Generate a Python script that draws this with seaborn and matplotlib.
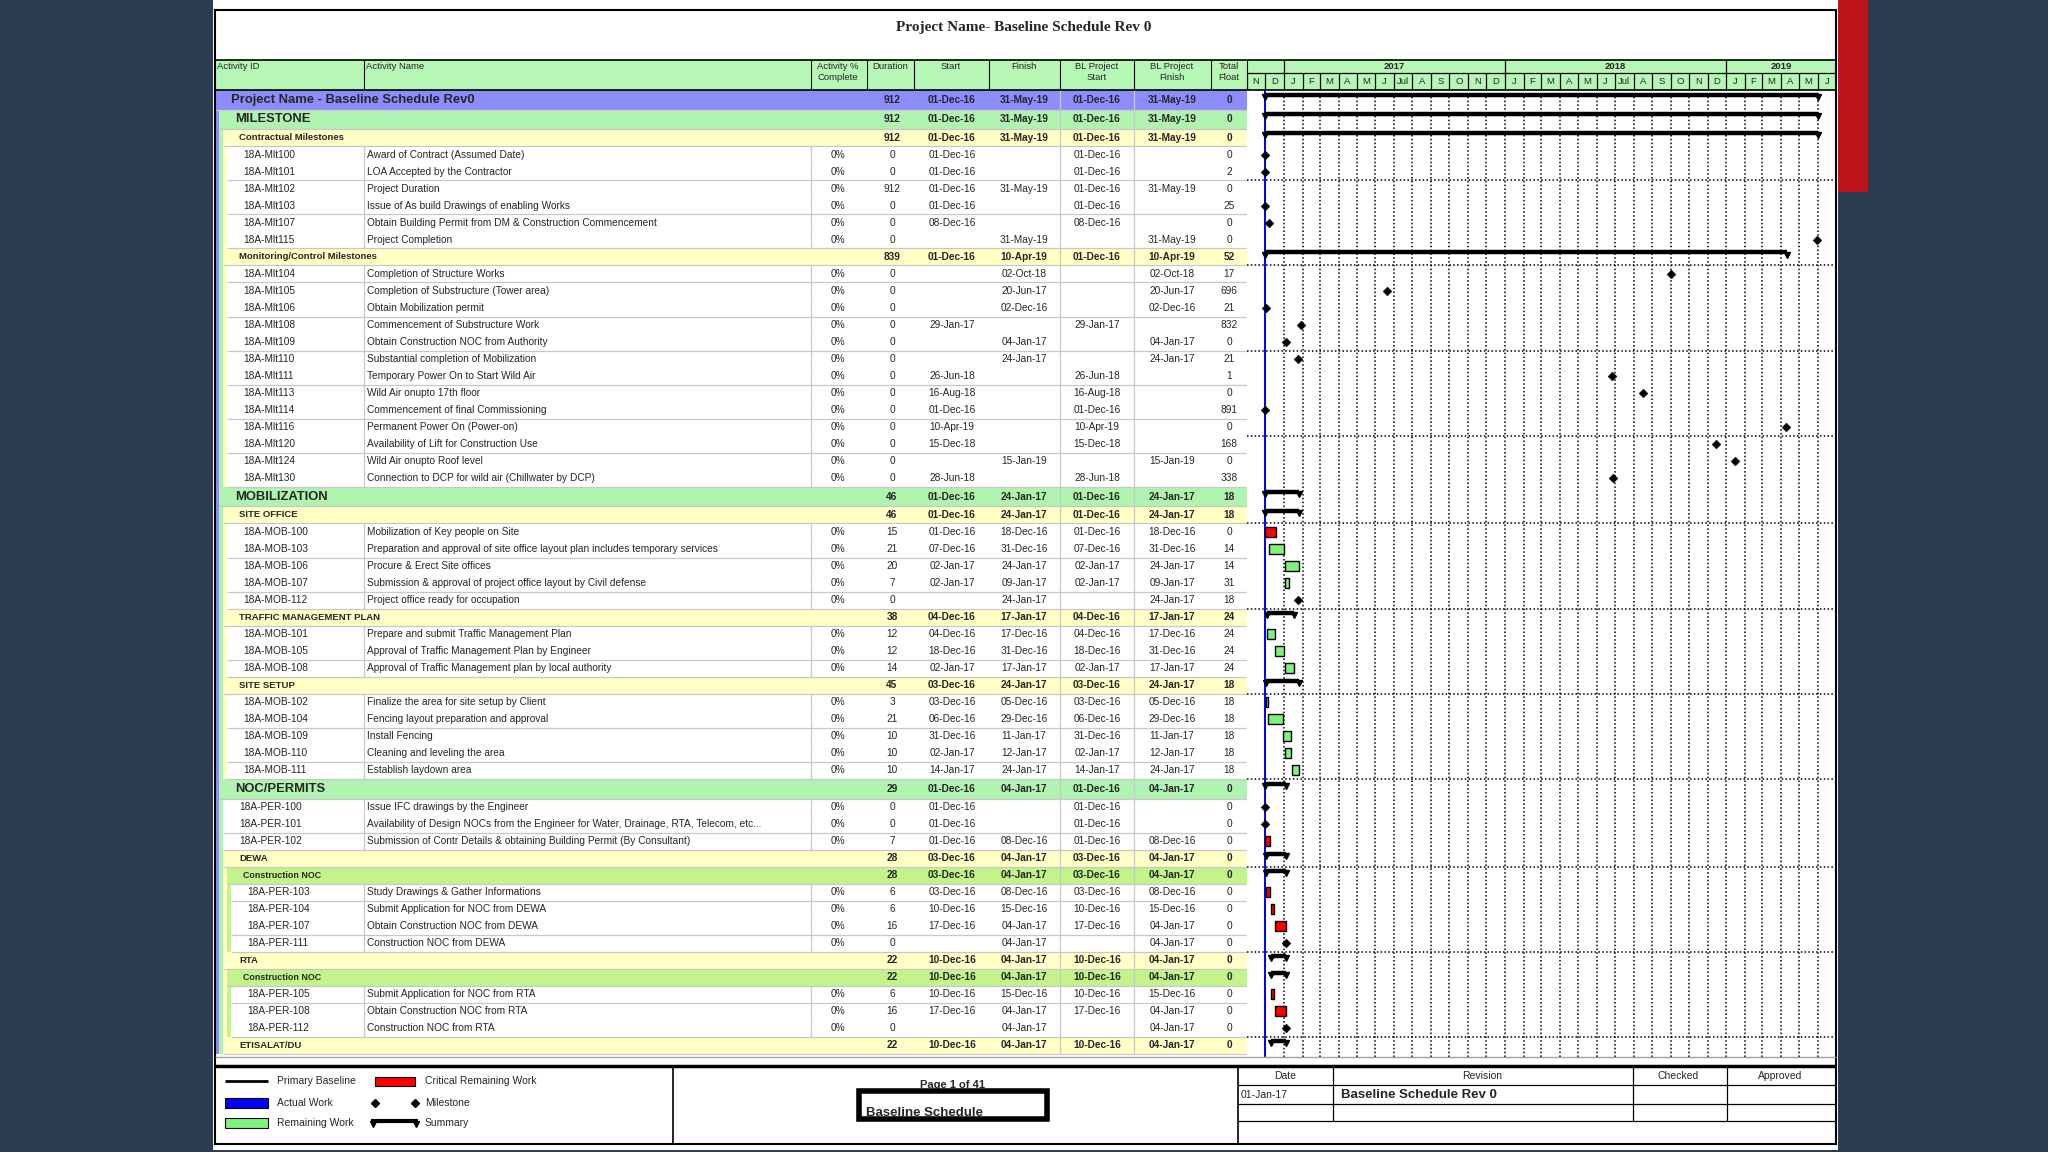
"""
Baseline schedule page (P6 style layout) redrawn with matplotlib + seaborn.
"""

import numpy as np
import pandas as pd
import matplotlib
matplotlib.use('Agg')
import matplotlib.pyplot as plt
import matplotlib.dates as mdates
from matplotlib.patches import Rectangle
import seaborn as sns

sns.set_theme(style='white')
plt.rcParams['font.family'] = ['Liberation Sans', 'DejaVu Sans']

W, H = 2048, 1152
BG = '#2c3d4f'
PURPLE = '#8c8cff'
GREEN = '#b0f3b0'
YELLOW = '#ffffc6'
LIME = '#c4f38c'
HEAD = '#b6f7b6'
BAR_GREEN = '#80f080'
BAR_RED = '#ff0000'
GRID = '#c8c8c8'

# ---- schedule data ----
kinds = (['P', 'W1', 'W2'] + ['T'] * 6 + ['W2'] + ['T'] * 13 +
         ['W1', 'W2'] + ['T'] * 5 + ['W2'] + ['T'] * 3 + ['W2'] + ['T'] * 5 +
         ['W1'] + ['T'] * 3 + ['W2', 'W3'] + ['T'] * 4 + ['W2', 'W3'] + ['T'] * 3 + ['W2'])

depth = ([0, 1, 2] + [3] * 6 + [2] + [3] * 13 +
         [1, 2] + [3] * 5 + [2] + [3] * 3 + [2] + [3] * 5 +
         [1] + [2] * 3 + [2, 3] + [4] * 4 + [2, 3] + [4] * 3 + [2])

act_id = [
    'Project Name - Baseline Schedule Rev0', 'MILESTONE', 'Contractual Milestones',
    '18A-Mlt100', '18A-Mlt101', '18A-Mlt102', '18A-Mlt103', '18A-Mlt107', '18A-Mlt115',
    'Monitoring/Control Milestones',
    '18A-Mlt104', '18A-Mlt105', '18A-Mlt106', '18A-Mlt108', '18A-Mlt109', '18A-Mlt110',
    '18A-Mlt111', '18A-Mlt113', '18A-Mlt114', '18A-Mlt116', '18A-Mlt120', '18A-Mlt124',
    '18A-Mlt130',
    'MOBILIZATION', 'SITE OFFICE',
    '18A-MOB-100', '18A-MOB-103', '18A-MOB-106', '18A-MOB-107', '18A-MOB-112',
    'TRAFFIC MANAGEMENT PLAN',
    '18A-MOB-101', '18A-MOB-105', '18A-MOB-108',
    'SITE SETUP',
    '18A-MOB-102', '18A-MOB-104', '18A-MOB-109', '18A-MOB-110', '18A-MOB-111',
    'NOC/PERMITS',
    '18A-PER-100', '18A-PER-101', '18A-PER-102',
    'DEWA', 'Construction NOC',
    '18A-PER-103', '18A-PER-104', '18A-PER-107', '18A-PER-111',
    'RTA', 'Construction NOC',
    '18A-PER-105', '18A-PER-108', '18A-PER-112',
    'ETISALAT/DU']

act_name = [
    '', '', '',
    'Award of Contract (Assumed Date)', 'LOA Accepted by the Contractor', 'Project Duration',
    'Issue of As build Drawings of enabling Works',
    'Obtain Building Permit from DM & Construction Commencement', 'Project Completion',
    '',
    'Completion of Structure Works', 'Completion of Substructure (Tower area)',
    'Obtain Mobilization permit', 'Commencement of Substructure Work',
    'Obtain Construction NOC from Authority', 'Substantial completion of Mobilization',
    'Temporary Power On to Start Wild Air', 'Wild Air onupto 17th floor',
    'Commencement of final Commissioning', 'Permanent Power On (Power-on)',
    'Availability of Lift for Construction Use', 'Wild Air onupto Roof level',
    'Connection to DCP for wild air (Chillwater by DCP)',
    '', '',
    'Mobilization of Key people on Site',
    'Preparation and approval of site office layout plan includes temporary services',
    'Procure & Erect Site offices',
    'Submission & approval of project office layout by Civil defense',
    'Project office ready for occupation',
    '',
    'Prepare and submit Traffic Management Plan',
    'Approval of Traffic Management Plan by Engineer',
    'Approval of Traffic Management plan by local authority',
    '',
    'Finalize the area for site setup by Client', 'Fencing layout preparation and approval',
    'Install Fencing', 'Cleaning and leveling the area', 'Establish laydown area',
    '',
    'Issue IFC drawings by the Engineer',
    'Availability of Design NOCs from the Engineer for Water, Drainage, RTA, Telecom, etc...',
    'Submission of Contr Details & obtaining Building Permit (By Consultant)',
    '', '',
    'Study Drawings & Gather Informations', 'Submit Application for NOC from DEWA',
    'Obtain Construction NOC from DEWA', 'Construction NOC from DEWA',
    '', '',
    'Submit Application for NOC from RTA', 'Obtain Construction NOC from RTA',
    'Construction NOC from RTA',
    '']

duration = [912, 912, 912, 0, 0, 912, 0, 0, 0,
            839, 0, 0, 0, 0, 0, 0, 0, 0, 0, 0, 0, 0, 0,
            46, 46, 15, 21, 20, 7, 0,
            38, 12, 12, 14,
            45, 3, 21, 10, 10, 10,
            29, 0, 0, 7,
            28, 28, 6, 6, 16, 0,
            22, 22, 6, 16, 0,
            22]

start = ['01-Dec-16', '01-Dec-16', '01-Dec-16',
         '01-Dec-16', '01-Dec-16', '01-Dec-16', '01-Dec-16', '08-Dec-16', '',
         '01-Dec-16',
         '', '', '', '29-Jan-17', '', '', '26-Jun-18', '16-Aug-18', '01-Dec-16',
         '10-Apr-19', '15-Dec-18', '', '28-Jun-18',
         '01-Dec-16', '01-Dec-16',
         '01-Dec-16', '07-Dec-16', '02-Jan-17', '02-Jan-17', '',
         '04-Dec-16',
         '04-Dec-16', '18-Dec-16', '02-Jan-17',
         '03-Dec-16',
         '03-Dec-16', '06-Dec-16', '31-Dec-16', '02-Jan-17', '14-Jan-17',
         '01-Dec-16',
         '01-Dec-16', '01-Dec-16', '01-Dec-16',
         '03-Dec-16', '03-Dec-16',
         '03-Dec-16', '10-Dec-16', '17-Dec-16', '',
         '10-Dec-16', '10-Dec-16',
         '10-Dec-16', '17-Dec-16', '',
         '10-Dec-16']

finish = ['31-May-19', '31-May-19', '31-May-19',
          '', '', '31-May-19', '', '', '31-May-19',
          '10-Apr-19',
          '02-Oct-18', '20-Jun-17', '02-Dec-16', '', '04-Jan-17', '24-Jan-17', '', '', '',
          '', '', '15-Jan-19', '',
          '24-Jan-17', '24-Jan-17',
          '18-Dec-16', '31-Dec-16', '24-Jan-17', '09-Jan-17', '24-Jan-17',
          '17-Jan-17',
          '17-Dec-16', '31-Dec-16', '17-Jan-17',
          '24-Jan-17',
          '05-Dec-16', '29-Dec-16', '11-Jan-17', '12-Jan-17', '24-Jan-17',
          '04-Jan-17',
          '', '', '08-Dec-16',
          '04-Jan-17', '04-Jan-17',
          '08-Dec-16', '15-Dec-16', '04-Jan-17', '04-Jan-17',
          '04-Jan-17', '04-Jan-17',
          '15-Dec-16', '04-Jan-17', '04-Jan-17',
          '04-Jan-17']

# baseline equals current plan in this revision
bl_start = list(start)
bl_finish = list(finish)

total_float = [0, 0, 0, 0, 2, 0, 25, 0, 0,
               52, 17, 696, 21, 832, 0, 21, 1, 0, 891, 0, 168, 0, 338,
               18, 18, 0, 14, 14, 31, 18,
               24, 24, 24, 24,
               18, 18, 18, 18, 18, 18,
               0, 0, 0, 0,
               0, 0, 0, 0, 0, 0,
               0, 0, 0, 0, 0,
               0]

# level-of-effort bar not drawn on the chart
hidden_bars = ['18A-Mlt102']

month_labels = ['N', 'D',
                'J', 'F', 'M', 'A', 'M', 'J', 'Jul', 'A', 'S', 'O', 'N', 'D',
                'J', 'F', 'M', 'A', 'M', 'J', 'Jul', 'A', 'S', 'O', 'N', 'D',
                'J', 'F', 'M', 'A', 'M', 'J']
years = [2017, 2018, 2019]

df = pd.DataFrame({'kind': kinds, 'depth': depth, 'id': act_id, 'name': act_name,
                   'dur': duration, 'start': start, 'finish': finish,
                   'bl_start': bl_start, 'bl_finish': bl_finish, 'tf': total_float})
for c in ['start', 'finish']:
    df[c + '_d'] = pd.to_datetime(df[c], format='%d-%b-%y', errors='coerce')

n = len(df)
row_h = np.where(df['kind'].isin(['P', 'W1']), 1.15, 1.0)
tops = np.concatenate([[0], np.cumsum(row_h)[:-1]])
cent = tops + row_h / 2
PX = (1054 - 90) / row_h.sum()
ymax = (1057 - 90) / PX

fig = plt.figure(figsize=(W / 100, H / 100), dpi=100, facecolor=BG)


def px_axes(x0, y0, x1, y1, z):
    a = fig.add_axes([x0 / W, 1 - y1 / H, (x1 - x0) / W, (y1 - y0) / H], zorder=z)
    a.set_facecolor('none')
    a.axis('off')
    return a


def box(ax, x0, y0, x1, y1, **kw):
    ax.add_patch(Rectangle((x0, y0), x1 - x0, y1 - y0, **kw))


# page background
ax_bg = px_axes(0, 0, W, H, 0)
ax_bg.set_xlim(0, W); ax_bg.set_ylim(H, 0)
box(ax_bg, 213, 0, 1838, 1150, color='white', lw=0)
box(ax_bg, 1838, 0, 1868, 192, color='#c0141c', lw=0)

# ---- activity table ----
ax_t = px_axes(215, 90, 1247, 1057, 2)
ax_t.set_xlim(215, 1247); ax_t.set_ylim(ymax, 0)

band_col = {'P': PURPLE, 'W1': GREEN, 'W2': YELLOW, 'W3': LIME}
grp_idx = sorted([i for i in range(n) if kinds[i] != 'T'], key=lambda i: depth[i])
for i in grp_idx:
    j = i + 1
    while j < n and depth[j] > depth[i]:
        j += 1
    box(ax_t, 215 + depth[i] * 4, tops[i], 1247, tops[j - 1] + row_h[j - 1],
        color=band_col[kinds[i]], lw=0)
for i in range(n):
    x0 = 215 + depth[i] * 4
    if kinds[i] == 'T':
        box(ax_t, x0, tops[i], 1247, tops[i] + row_h[i], color='white', lw=0)
        ax_t.vlines([364, 811], tops[i], tops[i] + row_h[i], color=GRID, lw=0.9)
        nxt_grp = i + 1 < n and kinds[i + 1] != 'T'
        if i % 2 == 0 or nxt_grp:
            ax_t.hlines(tops[i] + row_h[i], x0, 1247, color=GRID, lw=0.9)
    else:
        ax_t.hlines(tops[i] + row_h[i], x0, 1247, color=GRID, lw=0.9)
ax_t.vlines([1060, 1134], 0, tops[-1] + row_h[-1], color=GRID, lw=0.9)

fs_grp = {'P': 9.4, 'W1': 9.4, 'W2': 6.8, 'W3': 6.4}
for i, r in df.iterrows():
    y = cent[i]
    grp = r['kind'] != 'T'
    fw = 'bold' if grp else 'normal'
    fs = 7.3
    ax_t.text(231 + r['depth'] * 4, y, r['id'], va='center', ha='left',
              fontsize=fs_grp[r['kind']] if grp else fs, fontweight=fw)
    if not grp:
        ax_t.text(367, y, r['name'], va='center', ha='left', fontsize=fs)
        ax_t.text(838, y, '0%', va='center', ha='center', fontsize=fs)
    ax_t.text(892, y, str(r['dur']), va='center', ha='center', fontsize=fs, fontweight=fw)
    ax_t.text(952, y, r['start'], va='center', ha='center', fontsize=fs, fontweight=fw)
    ax_t.text(1024, y, r['finish'], va='center', ha='center', fontsize=fs, fontweight=fw)
    ax_t.text(1097, y, r['bl_start'], va='center', ha='center', fontsize=fs, fontweight=fw)
    ax_t.text(1172, y, r['bl_finish'], va='center', ha='center', fontsize=fs, fontweight=fw)
    ax_t.text(1229, y, str(r['tf']), va='center', ha='center', fontsize=fs, fontweight=fw)

# ---- gantt ----
d0 = mdates.date2num(pd.Timestamp('2016-11-01'))
d1 = mdates.date2num(pd.Timestamp('2019-07-01'))
ax_g = px_axes(1247, 90, 1836, 1057, 3)
ax_g.set_xlim(d0, d1); ax_g.set_ylim(ymax, 0)

months = pd.date_range('2016-12-01', '2019-06-01', freq='MS')
for m in months:
    ax_g.axvline(mdates.date2num(m), color='black', lw=1.1, ls=(0, (1, 1.5)), zorder=1)
for k in range(5, n, 5):
    ax_g.axhline(tops[k], color='black', lw=1.1, ls=(0, (1, 1.5)), zorder=1)
ax_g.axvline(mdates.date2num(pd.Timestamp('2016-12-01')), color='#0000ff', lw=1.4, zorder=2)

ms_x, ms_y = [], []
for i, r in df.iterrows():
    s = r['start_d']; f = r['finish_d']
    if r['kind'] != 'T':
        s_n = mdates.date2num(s); f_n = mdates.date2num(f) + 1
        yb = cent[i] - 0.26 * row_h[i]
        ax_g.hlines(yb, s_n, f_n, color='black', lw=3.2, zorder=4)
        ax_g.plot([s_n, f_n], [yb + 0.12, yb + 0.12], 'v', color='black', ms=4.5, zorder=4)
    elif r['id'] in hidden_bars:
        continue
    elif r['dur'] == 0:
        ms_x.append(mdates.date2num(s if pd.notna(s) else f))
        ms_y.append(cent[i])
    else:
        s_n = mdates.date2num(s); f_n = mdates.date2num(f) + 1
        ax_g.barh(cent[i], f_n - s_n, left=s_n, height=0.58,
                  color=BAR_RED if r['tf'] == 0 else BAR_GREEN,
                  edgecolor='black', lw=1.0, zorder=4)

sns.scatterplot(x=ms_x, y=ms_y, marker='D', color='black', s=20, edgecolor='black',
                ax=ax_g, legend=False, zorder=5)
ax_g.set_xlim(d0, d1); ax_g.set_ylim(ymax, 0); ax_g.axis('off')

# timescale header
ax_h = px_axes(1247, 60, 1836, 90, 3)
ax_h.set_xlim(d0, d1); ax_h.set_ylim(30, 0)
box(ax_h, d0, 0, d1, 30, color=HEAD, lw=0)
all_months = pd.date_range('2016-11-01', '2019-07-01', freq='MS')
mnum = mdates.date2num(all_months)
ax_h.vlines(mnum, 13, 30, color='black', lw=0.9)
ax_h.hlines(13, d0, d1, color='black', lw=0.9)
for k, lab in enumerate(month_labels):
    ax_h.text((mnum[k] + mnum[k + 1]) / 2, 21.8, lab, ha='center', va='center',
              fontsize=6.8)
yb = [mdates.date2num(pd.Timestamp(f'{y}-01-01')) for y in years]
ax_h.vlines(yb, 0, 13, color='black', lw=0.9)
yend = yb[1:] + [d1]
for y, a, b in zip(years, yb, yend):
    ax_h.text((a + b) / 2, 6.8, str(y), ha='center', va='center', fontsize=6.8,
              fontweight='bold')

# ---- frame, header, footer ----
ax_fr = px_axes(0, 0, W, H, 6)
ax_fr.set_xlim(0, W); ax_fr.set_ylim(H, 0)
ax_fr.text(1024, 28, 'Project Name- Baseline Schedule Rev 0', ha='center', va='center',
           fontsize=11, fontweight='bold', family='Liberation Serif')
box(ax_bg, 215, 60, 1247, 90, color=HEAD, lw=0)
ax_fr.hlines([60, 90], 215, 1836, color='black', lw=1.2)
ax_fr.vlines([364, 811, 867, 914, 989, 1060, 1134, 1211, 1247], 60, 90, color='black', lw=0.8)
hdr = [(217, 'Activity ID', 'left'), (366, 'Activity Name', 'left'),
       (838, 'Activity %\nComplete', 'center'), (890, 'Duration', 'center'),
       (951, 'Start', 'center'), (1024, 'Finish', 'center'),
       (1097, 'BL Project\nStart', 'center'), (1172, 'BL Project\nFinish', 'center'),
       (1229, 'Total\nFloat', 'center')]
for x, t, ha in hdr:
    ax_fr.text(x, 62, t, ha=ha, va='top', fontsize=6.8, linespacing=1.3)
ax_fr.hlines(1057, 215, 1836, color='#a0a0a0', lw=1.0)
box(ax_fr, 215, 10, 1836, 1144, fill=False, ec='black', lw=1.5)

# footer
ax_fr.hlines(1066, 215, 1836, color='black', lw=2.5)
ax_fr.vlines([673, 1238], 1066, 1144, color='black', lw=1.2)
ax_fr.hlines([1085, 1104, 1121], 1238, 1836, color='black', lw=0.9)
ax_fr.vlines([1333, 1633, 1727], 1066, 1121, color='black', lw=0.9)
for x, t in [(1285, 'Date'), (1482, 'Revision'), (1678, 'Checked'), (1780, 'Approved')]:
    ax_fr.text(x, 1076, t, ha='center', va='center', fontsize=7.5)
ax_fr.text(1241, 1095, '01-Jan-17', ha='left', va='center', fontsize=7.5)
ax_fr.text(1341, 1095, 'Baseline Schedule Rev 0', ha='left', va='center', fontsize=9.5,
           fontweight='bold')

ax_fr.text(953, 1085, 'Page 1 of 41', ha='center', va='center', fontsize=8, fontweight='bold')
box(ax_fr, 859, 1091, 1047, 1119, color='white', lw=0, zorder=2)
ax_fr.text(866, 1116, 'Baseline Schedule', ha='left', va='baseline', fontsize=9.5,
           fontweight='bold', zorder=3)
box(ax_fr, 859, 1091, 1047, 1119, fill=False, ec='black', lw=4, zorder=4)

# legend
ax_fr.hlines(1081, 225, 268, color='black', lw=2)
ax_fr.text(277, 1081, 'Primary Baseline', va='center', fontsize=7.5)
box(ax_fr, 375, 1077, 415, 1086, color=BAR_RED, ec='black', lw=0.8)
ax_fr.text(425, 1081, 'Critical Remaining Work', va='center', fontsize=7.5)
box(ax_fr, 225, 1098, 268, 1108, color='#0000ff', ec='black', lw=0.8)
ax_fr.text(277, 1103, 'Actual Work', va='center', fontsize=7.5)
ax_fr.plot([375, 415], [1103, 1103], 'D', color='black', ms=4, ls='none')
ax_fr.text(425, 1103, 'Milestone', va='center', fontsize=7.5)
box(ax_fr, 225, 1118, 268, 1128, color=BAR_GREEN, ec='black', lw=0.8)
ax_fr.text(277, 1123, 'Remaining Work', va='center', fontsize=7.5)
ax_fr.hlines(1121, 371, 418, color='black', lw=3)
ax_fr.plot([373, 416], [1124, 1124], 'v', color='black', ms=4, ls='none')
ax_fr.text(425, 1123, 'Summary', va='center', fontsize=7.5)

fig.savefig('out.png', dpi=100, facecolor=BG)
